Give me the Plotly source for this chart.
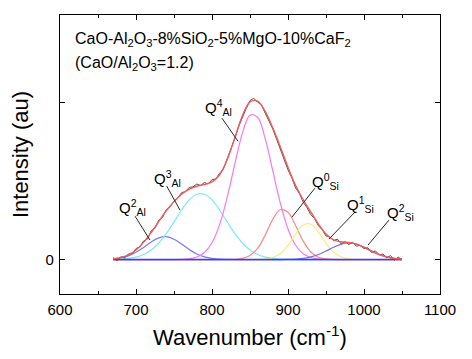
import plotly.graph_objects as go

# ---------------- data ----------------
# wavenumber grid for fitted curves (cm^-1)
wn_fit = [670, 680, 690, 700, 710, 720, 730, 740, 750, 760, 770, 780, 790, 800,
          810, 820, 830, 840, 850, 860, 870, 880, 890, 900, 910, 920, 930, 940,
          950, 960, 970, 980, 990, 1000, 1010, 1020, 1030, 1040, 1050]

q2_al = [0.004, 0.010, 0.023, 0.046, 0.077, 0.112, 0.138, 0.145, 0.129, 0.098,
         0.064, 0.035, 0.017, 0.007, 0.002, 0.001, 0, 0, 0, 0, 0, 0, 0, 0, 0,
         0, 0, 0, 0, 0, 0, 0, 0, 0, 0, 0, 0, 0, 0]
q3_al = [0.001, 0.003, 0.007, 0.015, 0.032, 0.060, 0.105, 0.166, 0.239, 0.315,
         0.379, 0.415, 0.415, 0.379, 0.315, 0.239, 0.166, 0.105, 0.060, 0.032,
         0.015, 0.007, 0.003, 0.001, 0, 0, 0, 0, 0, 0, 0, 0, 0, 0, 0, 0, 0, 0, 0]
q4_al = [0, 0, 0, 0, 0, 0, 0, 0, 0, 0.001, 0.005, 0.016, 0.045, 0.107, 0.222,
         0.395, 0.606, 0.803, 0.917, 0.904, 0.768, 0.563, 0.356, 0.194, 0.091,
         0.037, 0.013, 0.004, 0.001, 0, 0, 0, 0, 0, 0, 0, 0, 0, 0]
q0_si = [0, 0, 0, 0, 0, 0, 0, 0, 0, 0, 0, 0, 0, 0, 0, 0, 0.001, 0.007, 0.025,
         0.071, 0.155, 0.255, 0.318, 0.301, 0.216, 0.117, 0.048, 0.015, 0.004,
         0.001, 0, 0, 0, 0, 0, 0, 0, 0, 0]
q1_si = [0, 0, 0, 0, 0, 0, 0, 0, 0, 0, 0, 0, 0, 0, 0, 0, 0, 0, 0, 0.001, 0.003,
         0.012, 0.038, 0.090, 0.161, 0.219, 0.225, 0.175, 0.104, 0.046, 0.016,
         0.004, 0.001, 0, 0, 0, 0, 0, 0]
q2_si = [0, 0, 0, 0, 0, 0, 0, 0, 0, 0, 0, 0, 0, 0, 0, 0, 0, 0, 0, 0, 0, 0, 0,
         0.001, 0.003, 0.007, 0.017, 0.032, 0.054, 0.078, 0.098, 0.105, 0.098,
         0.078, 0.054, 0.032, 0.017, 0.007, 0.003]
fit_sum = [0.005, 0.013, 0.030, 0.061, 0.109, 0.172, 0.243, 0.311, 0.368, 0.415,
           0.448, 0.466, 0.477, 0.493, 0.539, 0.635, 0.773, 0.914, 1.002, 1.007,
           0.941, 0.837, 0.715, 0.587, 0.471, 0.380, 0.303, 0.227, 0.162, 0.125,
           0.113, 0.109, 0.098, 0.078, 0.054, 0.032, 0.017, 0.007, 0.003]

# measured spectrum
wn_exp = [670, 675, 680, 685, 690, 695, 700, 705, 710, 715, 720, 725, 730, 735,
          740, 745, 750, 755, 760, 765, 770, 775, 780, 785, 790, 795, 800, 805,
          810, 815, 820, 825, 830, 835, 840, 845, 850, 855, 860, 865, 870, 875,
          880, 885, 890, 895, 900, 905, 910, 915, 920, 925, 930, 935, 940, 945,
          950, 955, 960, 965, 970, 975, 980, 985, 990, 995, 1000, 1005, 1010,
          1015, 1020, 1025, 1030, 1035, 1040, 1045, 1050]
intensity = [0.012, -0.008, 0.018, 0.010, 0.035, 0.038, 0.070, 0.080, 0.118,
             0.130, 0.182, 0.200, 0.250, 0.268, 0.318, 0.335, 0.372, 0.392,
             0.425, 0.432, 0.458, 0.462, 0.480, 0.470, 0.490, 0.480, 0.508,
             0.512, 0.548, 0.575, 0.640, 0.700, 0.770, 0.845, 0.905, 0.960,
             1.010, 1.025, 1.000, 0.985, 0.930, 0.880, 0.830, 0.765, 0.700,
             0.635, 0.570, 0.520, 0.455, 0.420, 0.365, 0.330, 0.285, 0.260,
             0.215, 0.190, 0.150, 0.145, 0.120, 0.130, 0.100, 0.115, 0.095,
             0.110, 0.085, 0.090, 0.070, 0.075, 0.045, 0.055, 0.030, 0.035,
             0.010, 0.025, -0.005, 0.015, 0.000]

base_x = [670, 1050]
base_y = [0, 0]

# peak labels: text, label left x, label y, leader start (x, y), leader end (x, y)
label_text = ["Q<sup>2</sup><sub>Al</sub>", "Q<sup>3</sup><sub>Al</sub>",
              "Q<sup>4</sup><sub>Al</sub>", "Q<sup>0</sup><sub>Si</sub>",
              "Q<sup>1</sup><sub>Si</sub>", "Q<sup>2</sup><sub>Si</sub>"]
label_x = [675, 721, 788, 929, 975, 1028]
label_y = [0.333, 0.517, 0.965, 0.498, 0.352, 0.298]
lead_x0 = [698.7, 740.4, 813.2, 935.5, 988.2, 1032.9]
lead_y0 = [0.276, 0.467, 0.898, 0.454, 0.302, 0.251]
lead_x1 = [718.4, 757.9, 834.2, 905.3, 953.9, 1005.3]
lead_y1 = [0.124, 0.314, 0.752, 0.270, 0.130, 0.092]

x_ticks = [600, 700, 800, 900, 1000, 1100]
y_ticks = [0, 1]
y_ticktext = ["0", ""]

# ---------------- figure ----------------
FONT = "Liberation Sans, Arial, sans-serif"
fig = go.Figure()

comp = [(q2_al, "rgb(120,120,255)"), (q3_al, "rgb(120,235,245)"),
        (q4_al, "rgb(245,120,245)"), (q0_si, "rgb(255,135,135)"),
        (q1_si, "rgb(245,240,120)"), (q2_si, "rgb(110,110,255)")]
for ys, col in comp:
    fig.add_trace(go.Scatter(x=wn_fit, y=ys, mode="lines", hoverinfo="skip",
                             line=dict(color=col, width=1.2, shape="spline")))

fig.add_trace(go.Scatter(x=base_x, y=base_y, mode="lines", hoverinfo="skip",
                         line=dict(color="rgb(60,60,255)", width=1.4)))
fig.add_trace(go.Scatter(x=wn_exp, y=intensity, mode="lines", hoverinfo="skip",
                         line=dict(color="rgb(80,80,80)", width=1)))
fig.add_trace(go.Scatter(x=wn_fit, y=fit_sum, mode="lines", hoverinfo="skip",
                         line=dict(color="rgb(245,90,90)", width=1.4, shape="spline")))

for t, lx, ly, x0, y0, x1, y1 in zip(label_text, label_x, label_y,
                                     lead_x0, lead_y0, lead_x1, lead_y1):
    fig.add_annotation(x=lx, y=ly, text=t, showarrow=False, xanchor="left",
                       yanchor="middle", font=dict(size=15, color="black", family=FONT))
    fig.add_shape(type="line", x0=x0, y0=y0, x1=x1, y1=y1,
                  line=dict(color="rgb(40,40,40)", width=1))

fig.add_annotation(x=617, y=1.40, xanchor="left", yanchor="middle", showarrow=False,
                   text="CaO-Al<sub>2</sub>O<sub>3</sub>-8%SiO<sub>2</sub>-5%MgO-10%CaF<sub>2</sub>",
                   font=dict(size=16, color="black", family=FONT))
fig.add_annotation(x=617, y=1.245, xanchor="left", yanchor="middle", showarrow=False,
                   text="(CaO/Al<sub>2</sub>O<sub>3</sub>=1.2)",
                   font=dict(size=16, color="black", family=FONT))

axis_common = dict(showline=True, linecolor="black", linewidth=1.3, mirror="allticks",
                   ticks="inside", ticklen=5, tickcolor="black", tickwidth=1,
                   showgrid=False, zeroline=False, automargin=False)
fig.update_xaxes(range=[600, 1100], tickvals=x_ticks, ticklabelstandoff=2,
                 minor=dict(dtick=50, tick0=600, ticks="inside", ticklen=3,
                            tickcolor="black", showgrid=False),
                 title=dict(text="Wavenumber (cm<sup>-1</sup>)", standoff=12,
                            font=dict(size=22, family=FONT, color="black")),
                 tickfont=dict(size=15, family=FONT, color="black"), **axis_common)
fig.update_yaxes(range=[-0.219, 1.554], tickvals=y_ticks, ticktext=y_ticktext,
                 ticklabelstandoff=2,
                 title=dict(text="Intensity (au)", standoff=10,
                            font=dict(size=22, family=FONT, color="black")),
                 tickfont=dict(size=15, family=FONT, color="black"), **axis_common)

fig.update_layout(width=472, height=359, showlegend=False, hovermode=False,
                  plot_bgcolor="white", paper_bgcolor="white",
                  margin=dict(l=60, r=32, t=15, b=65))

fig.write_html("out.html", config={"displayModeBar": False},
               post_script="document.body.style.margin='0';document.body.style.padding='0';")
